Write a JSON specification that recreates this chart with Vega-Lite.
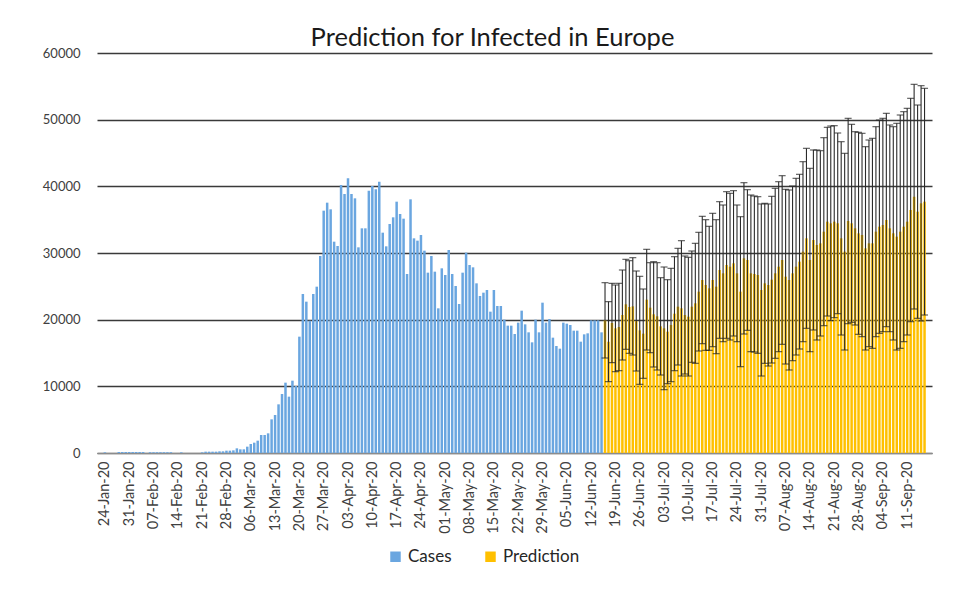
{
  "$schema": "https://vega.github.io/schema/vega-lite/v6.json",
  "width": 835,
  "height": 400,
  "autosize": {"type": "none"},
  "padding": {"left": 97, "top": 53, "right": 23, "bottom": 138},
  "background": "white",
  "title": {"text": "Prediction for Infected in Europe", "fontSize": 25.5, "font": "Lato", "fontWeight": "normal", "color": "#1a1a1a", "offset": -4, "dx": -22},
  "datasets": {
    "cases": [
      {"date":"2020-01-24","value":100},{"date":"2020-01-25","value":0},{"date":"2020-01-26","value":0},{"date":"2020-01-27","value":0},
      {"date":"2020-01-28","value":150},{"date":"2020-01-29","value":150},{"date":"2020-01-30","value":150},{"date":"2020-01-31","value":150},
      {"date":"2020-02-01","value":150},{"date":"2020-02-02","value":150},{"date":"2020-02-03","value":150},{"date":"2020-02-04","value":150},
      {"date":"2020-02-05","value":0},{"date":"2020-02-06","value":120},{"date":"2020-02-07","value":120},{"date":"2020-02-08","value":120},
      {"date":"2020-02-09","value":120},{"date":"2020-02-10","value":120},{"date":"2020-02-11","value":120},{"date":"2020-02-12","value":120},
      {"date":"2020-02-13","value":0},{"date":"2020-02-14","value":0},{"date":"2020-02-15","value":100},{"date":"2020-02-16","value":0},
      {"date":"2020-02-17","value":0},{"date":"2020-02-18","value":0},{"date":"2020-02-19","value":0},{"date":"2020-02-20","value":0},
      {"date":"2020-02-21","value":100},{"date":"2020-02-22","value":200},{"date":"2020-02-23","value":200},{"date":"2020-02-24","value":200},
      {"date":"2020-02-25","value":200},{"date":"2020-02-26","value":250},{"date":"2020-02-27","value":250},{"date":"2020-02-28","value":350},
      {"date":"2020-02-29","value":350},{"date":"2020-03-01","value":400},{"date":"2020-03-02","value":700},{"date":"2020-03-03","value":550},
      {"date":"2020-03-04","value":550},{"date":"2020-03-05","value":950},{"date":"2020-03-06","value":1350},{"date":"2020-03-07","value":1550},
      {"date":"2020-03-08","value":1850},{"date":"2020-03-09","value":2700},{"date":"2020-03-10","value":2700},{"date":"2020-03-11","value":2950},
      {"date":"2020-03-12","value":5050},{"date":"2020-03-13","value":5700},{"date":"2020-03-14","value":7300},{"date":"2020-03-15","value":8850},
      {"date":"2020-03-16","value":10550},{"date":"2020-03-17","value":8450},{"date":"2020-03-18","value":10850},{"date":"2020-03-19","value":10050},
      {"date":"2020-03-20","value":17450},{"date":"2020-03-21","value":23850},{"date":"2020-03-22","value":22700},{"date":"2020-03-23","value":19850},
      {"date":"2020-03-24","value":23850},{"date":"2020-03-25","value":24950},{"date":"2020-03-26","value":29550},{"date":"2020-03-27","value":36350},
      {"date":"2020-03-28","value":37550},{"date":"2020-03-29","value":36550},{"date":"2020-03-30","value":31700},{"date":"2020-03-31","value":31050},
      {"date":"2020-04-01","value":40200},{"date":"2020-04-02","value":38850},{"date":"2020-04-03","value":41200},{"date":"2020-04-04","value":38850},
      {"date":"2020-04-05","value":38200},{"date":"2020-04-06","value":30850},{"date":"2020-04-07","value":33700},{"date":"2020-04-08","value":33700},
      {"date":"2020-04-09","value":39350},{"date":"2020-04-10","value":40050},{"date":"2020-04-11","value":39550},{"date":"2020-04-12","value":40700},
      {"date":"2020-04-13","value":33050},{"date":"2020-04-14","value":31000},{"date":"2020-04-15","value":34350},{"date":"2020-04-16","value":35350},
      {"date":"2020-04-17","value":37700},{"date":"2020-04-18","value":35850},{"date":"2020-04-19","value":35150},{"date":"2020-04-20","value":26850},
      {"date":"2020-04-21","value":38050},{"date":"2020-04-22","value":32200},{"date":"2020-04-23","value":31850},{"date":"2020-04-24","value":32700},
      {"date":"2020-04-25","value":30350},{"date":"2020-04-26","value":27050},{"date":"2020-04-27","value":29550},{"date":"2020-04-28","value":27200},
      {"date":"2020-04-29","value":21700},{"date":"2020-04-30","value":27700},{"date":"2020-05-01","value":26700},{"date":"2020-05-02","value":30450},
      {"date":"2020-05-03","value":26850},{"date":"2020-05-04","value":25050},{"date":"2020-05-05","value":22350},{"date":"2020-05-06","value":27050},
      {"date":"2020-05-07","value":30050},{"date":"2020-05-08","value":28200},{"date":"2020-05-09","value":27850},{"date":"2020-05-10","value":25450},
      {"date":"2020-05-11","value":23550},{"date":"2020-05-12","value":24050},{"date":"2020-05-13","value":24450},{"date":"2020-05-14","value":21200},
      {"date":"2020-05-15","value":24450},{"date":"2020-05-16","value":22050},{"date":"2020-05-17","value":22050},{"date":"2020-05-18","value":20000},
      {"date":"2020-05-19","value":19100},{"date":"2020-05-20","value":19100},{"date":"2020-05-21","value":17850},{"date":"2020-05-22","value":19550},
      {"date":"2020-05-23","value":21350},{"date":"2020-05-24","value":19300},{"date":"2020-05-25","value":18100},{"date":"2020-05-26","value":16600},
      {"date":"2020-05-27","value":20000},{"date":"2020-05-28","value":18100},{"date":"2020-05-29","value":22550},{"date":"2020-05-30","value":19550},
      {"date":"2020-05-31","value":20100},{"date":"2020-06-01","value":17300},{"date":"2020-06-02","value":16050},{"date":"2020-06-03","value":15650},
      {"date":"2020-06-04","value":19550},{"date":"2020-06-05","value":19400},{"date":"2020-06-06","value":19200},{"date":"2020-06-07","value":18350},
      {"date":"2020-06-08","value":18350},{"date":"2020-06-09","value":16700},{"date":"2020-06-10","value":17800},{"date":"2020-06-11","value":17950},
      {"date":"2020-06-12","value":19900},{"date":"2020-06-13","value":19900},{"date":"2020-06-14","value":19900},{"date":"2020-06-15","value":18100}
    ],
    "pred": [
      {"date":"2020-06-16","value":19900,"lo":14250,"hi":25550},{"date":"2020-06-17","value":16700,"lo":10700,"hi":22700},
      {"date":"2020-06-18","value":19500,"lo":13550,"hi":25450},{"date":"2020-06-19","value":18700,"lo":12200,"hi":25200},
      {"date":"2020-06-20","value":18900,"lo":12350,"hi":25450},{"date":"2020-06-21","value":20700,"lo":13950,"hi":27450},
      {"date":"2020-06-22","value":22300,"lo":15550,"hi":29050},{"date":"2020-06-23","value":21900,"lo":14950,"hi":28850},
      {"date":"2020-06-24","value":22000,"lo":14700,"hi":29300},{"date":"2020-06-25","value":19800,"lo":12300,"hi":27300},
      {"date":"2020-06-26","value":18400,"lo":10300,"hi":26500},{"date":"2020-06-27","value":17900,"lo":11200,"hi":24600},
      {"date":"2020-06-28","value":23000,"lo":15450,"hi":30550},{"date":"2020-06-29","value":21800,"lo":15050,"hi":28550},
      {"date":"2020-06-30","value":20800,"lo":12900,"hi":28700},{"date":"2020-07-01","value":20500,"lo":12450,"hi":28550},
      {"date":"2020-07-02","value":19000,"lo":11700,"hi":26300},{"date":"2020-07-03","value":18700,"lo":9500,"hi":27900},
      {"date":"2020-07-04","value":18200,"lo":10400,"hi":26000},{"date":"2020-07-05","value":19200,"lo":10700,"hi":27700},
      {"date":"2020-07-06","value":20900,"lo":12350,"hi":29450},{"date":"2020-07-07","value":21950,"lo":13200,"hi":30700},
      {"date":"2020-07-08","value":21700,"lo":11550,"hi":31850},{"date":"2020-07-09","value":20700,"lo":11850,"hi":29550},
      {"date":"2020-07-10","value":20450,"lo":11550,"hi":29350},{"date":"2020-07-11","value":21950,"lo":13600,"hi":30300},
      {"date":"2020-07-12","value":22450,"lo":13450,"hi":31450},{"date":"2020-07-13","value":24200,"lo":15300,"hi":33100},
      {"date":"2020-07-14","value":25950,"lo":16400,"hi":35500},{"date":"2020-07-15","value":25200,"lo":15400,"hi":35000},
      {"date":"2020-07-16","value":24700,"lo":15400,"hi":34000},{"date":"2020-07-17","value":25950,"lo":15950,"hi":35950},
      {"date":"2020-07-18","value":24950,"lo":14900,"hi":35000},{"date":"2020-07-19","value":27450,"lo":17200,"hi":37700},
      {"date":"2020-07-20","value":26950,"lo":16700,"hi":37200},{"date":"2020-07-21","value":28200,"lo":17200,"hi":39200},
      {"date":"2020-07-22","value":27950,"lo":16950,"hi":38950},{"date":"2020-07-23","value":28450,"lo":17550,"hi":39350},
      {"date":"2020-07-24","value":26950,"lo":16700,"hi":37200},{"date":"2020-07-25","value":24200,"lo":12950,"hi":35450},
      {"date":"2020-07-26","value":29200,"lo":17850,"hi":40550},{"date":"2020-07-27","value":28950,"lo":18400,"hi":39500},
      {"date":"2020-07-28","value":26950,"lo":15200,"hi":38700},{"date":"2020-07-29","value":26850,"lo":15150,"hi":38550},
      {"date":"2020-07-30","value":26700,"lo":14950,"hi":38450},{"date":"2020-07-31","value":24450,"lo":11550,"hi":37350},
      {"date":"2020-08-01","value":25450,"lo":13450,"hi":37450},{"date":"2020-08-02","value":25200,"lo":13050,"hi":37350},
      {"date":"2020-08-03","value":26000,"lo":13500,"hi":38500},{"date":"2020-08-04","value":26950,"lo":14200,"hi":39700},
      {"date":"2020-08-05","value":27950,"lo":15200,"hi":40700},{"date":"2020-08-06","value":28950,"lo":16300,"hi":41600},
      {"date":"2020-08-07","value":26450,"lo":13350,"hi":39550},{"date":"2020-08-08","value":25950,"lo":12450,"hi":39450},
      {"date":"2020-08-09","value":26950,"lo":13850,"hi":40050},{"date":"2020-08-10","value":27950,"lo":14700,"hi":41200},
      {"date":"2020-08-11","value":28700,"lo":15600,"hi":41800},{"date":"2020-08-12","value":30200,"lo":16700,"hi":43700},
      {"date":"2020-08-13","value":32200,"lo":18700,"hi":45700},{"date":"2020-08-14","value":28950,"lo":15200,"hi":42700},
      {"date":"2020-08-15","value":31950,"lo":18450,"hi":45450},{"date":"2020-08-16","value":31200,"lo":16950,"hi":45450},
      {"date":"2020-08-17","value":31450,"lo":17550,"hi":45350},{"date":"2020-08-18","value":33200,"lo":19100,"hi":47300},
      {"date":"2020-08-19","value":34700,"lo":20550,"hi":48850},{"date":"2020-08-20","value":34450,"lo":19850,"hi":49050},
      {"date":"2020-08-21","value":34700,"lo":20300,"hi":49100},{"date":"2020-08-22","value":34450,"lo":20900,"hi":48000},
      {"date":"2020-08-23","value":32200,"lo":17700,"hi":46700},{"date":"2020-08-24","value":30200,"lo":15450,"hi":44950},
      {"date":"2020-08-25","value":34800,"lo":19400,"hi":50200},{"date":"2020-08-26","value":34450,"lo":19600,"hi":49300},
      {"date":"2020-08-27","value":33700,"lo":19200,"hi":48200},{"date":"2020-08-28","value":32950,"lo":17800,"hi":48100},
      {"date":"2020-08-29","value":32700,"lo":17450,"hi":47950},{"date":"2020-08-30","value":30700,"lo":15450,"hi":45950},
      {"date":"2020-08-31","value":31450,"lo":15950,"hi":46950},{"date":"2020-09-01","value":31450,"lo":15700,"hi":47200},
      {"date":"2020-09-02","value":33200,"lo":17450,"hi":48950},{"date":"2020-09-03","value":33950,"lo":17950,"hi":49950},
      {"date":"2020-09-04","value":34200,"lo":18200,"hi":50200},{"date":"2020-09-05","value":34950,"lo":18950,"hi":50950},
      {"date":"2020-09-06","value":33700,"lo":18200,"hi":49200},{"date":"2020-09-07","value":32950,"lo":16950,"hi":48950},
      {"date":"2020-09-08","value":32450,"lo":15450,"hi":49450},{"date":"2020-09-09","value":33200,"lo":15700,"hi":50700},
      {"date":"2020-09-10","value":33950,"lo":16700,"hi":51200},{"date":"2020-09-11","value":34700,"lo":17700,"hi":51700},
      {"date":"2020-09-12","value":36450,"lo":19700,"hi":53200},{"date":"2020-09-13","value":38450,"lo":21600,"hi":55300},
      {"date":"2020-09-14","value":36200,"lo":20200,"hi":52200},{"date":"2020-09-15","value":37450,"lo":19800,"hi":55100},
      {"date":"2020-09-16","value":37700,"lo":20700,"hi":54700}
    ]
  },
  "encoding": {
    "x": {
      "field": "date", "type": "temporal",
      "scale": {"type": "utc", "domain": [{"year": 2020, "month": 1, "date": 23, "hours": 4, "utc": true}, {"year": 2020, "month": 9, "date": 16, "hours": 17, "utc": true}]},
      "axis": {
        "title": null, "labelExpr": "utcFormat(datum.value, '%d-%b-%y')", "labelAngle": -90,
        "labelFont": "Lato", "labelFontSize": 14.5, "labelColor": "#404040", "labelPadding": 8,
        "labelOverlap": false, "labelFlush": false, "labelBound": false,
        "grid": false, "ticks": false, "domainColor": "#8c8c8c", "domainWidth": 1.2,
        "values": [
          {"year":2020,"month":1,"date":24,"utc":true},{"year":2020,"month":1,"date":31,"utc":true},
          {"year":2020,"month":2,"date":7,"utc":true},{"year":2020,"month":2,"date":14,"utc":true},
          {"year":2020,"month":2,"date":21,"utc":true},{"year":2020,"month":2,"date":28,"utc":true},
          {"year":2020,"month":3,"date":6,"utc":true},{"year":2020,"month":3,"date":13,"utc":true},
          {"year":2020,"month":3,"date":20,"utc":true},{"year":2020,"month":3,"date":27,"utc":true},
          {"year":2020,"month":4,"date":3,"utc":true},{"year":2020,"month":4,"date":10,"utc":true},
          {"year":2020,"month":4,"date":17,"utc":true},{"year":2020,"month":4,"date":24,"utc":true},
          {"year":2020,"month":5,"date":1,"utc":true},{"year":2020,"month":5,"date":8,"utc":true},
          {"year":2020,"month":5,"date":15,"utc":true},{"year":2020,"month":5,"date":22,"utc":true},
          {"year":2020,"month":5,"date":29,"utc":true},{"year":2020,"month":6,"date":5,"utc":true},
          {"year":2020,"month":6,"date":12,"utc":true},{"year":2020,"month":6,"date":19,"utc":true},
          {"year":2020,"month":6,"date":26,"utc":true},{"year":2020,"month":7,"date":3,"utc":true},
          {"year":2020,"month":7,"date":10,"utc":true},{"year":2020,"month":7,"date":17,"utc":true},
          {"year":2020,"month":7,"date":24,"utc":true},{"year":2020,"month":7,"date":31,"utc":true},
          {"year":2020,"month":8,"date":7,"utc":true},{"year":2020,"month":8,"date":14,"utc":true},
          {"year":2020,"month":8,"date":21,"utc":true},{"year":2020,"month":8,"date":28,"utc":true},
          {"year":2020,"month":9,"date":4,"utc":true},{"year":2020,"month":9,"date":11,"utc":true}
        ]
      }
    }
  },
  "layer": [
    {
      "data": {"name": "cases"},
      "mark": {"type": "bar", "width": 2.5},
      "encoding": {
        "y": {"field": "value", "type": "quantitative",
          "scale": {"domain": [0, 60000], "nice": false},
          "axis": {"title": null, "values": [0, 10000, 20000, 30000, 40000, 50000, 60000], "format": "d",
            "grid": true, "gridColor": "#3a3a3a", "gridWidth": 1.3, "domain": false, "ticks": false,
            "labelFont": "Lato", "labelFontSize": 13, "labelColor": "#404040", "labelPadding": 17}},
        "color": {"datum": "Cases", "type": "nominal",
          "scale": {"domain": ["Cases", "Prediction"], "range": ["#6aa6e0", "#ffc000"]},
          "legend": {"title": null, "orient": "none", "legendX": 290, "legendY": 495, "direction": "horizontal", "symbolType": "square",
            "symbolSize": 110, "labelFont": "Lato", "labelFontSize": 17, "labelColor": "#262626",
            "columnPadding": 30}}
      }
    },
    {
      "data": {"name": "pred"},
      "mark": {"type": "bar", "width": 2.5},
      "encoding": {
        "y": {"field": "value", "type": "quantitative"},
        "color": {"datum": "Prediction", "type": "nominal"}
      }
    },
    {
      "data": {"name": "pred"},
      "mark": {"type": "errorbar", "ticks": {"color": "#1f1f1f", "size": 7, "thickness": 1.2}, "rule": {"color": "#2a2a2a", "strokeWidth": 1.1}},
      "encoding": {
        "y": {"field": "lo", "type": "quantitative"},
        "y2": {"field": "hi"}
      }
    }
  ],
  "config": {"view": {"stroke": null}}
}
